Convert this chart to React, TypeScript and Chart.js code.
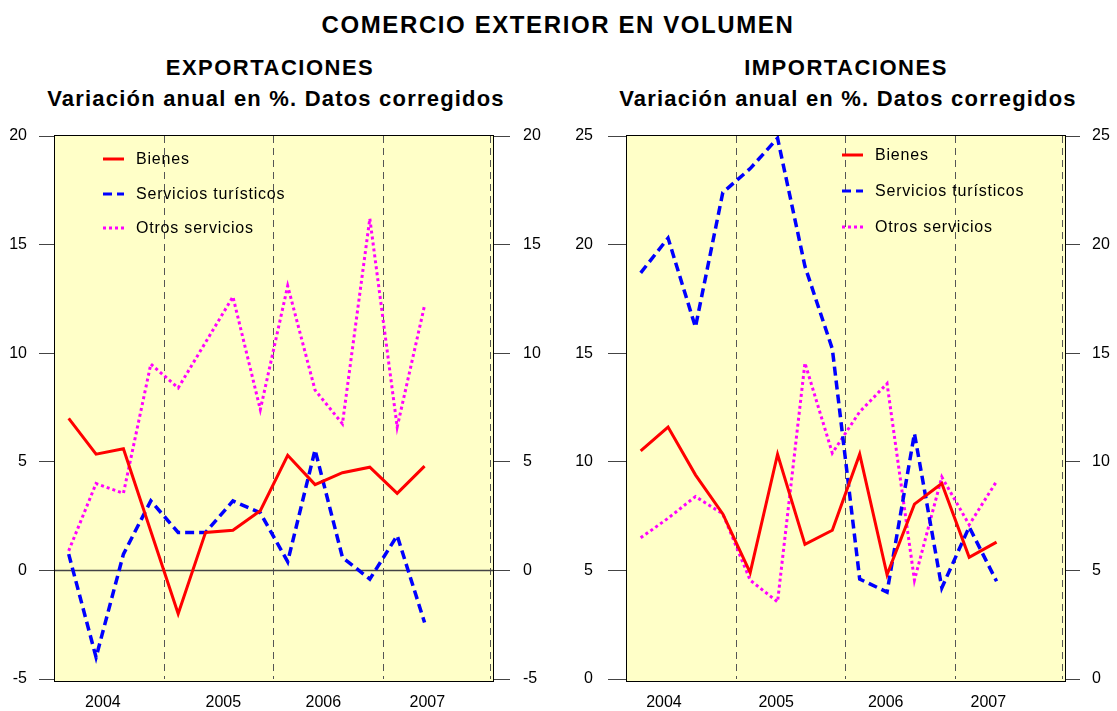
import React, { useEffect, useRef } from 'react';
import { Chart, registerables } from 'chart.js';

Chart.register(...registerables);

// ---- Data ----
const QUARTERS = ['2004-I', '2004-II', '2004-III', '2004-IV', '2005-I', '2005-II', '2005-III', '2005-IV', '2006-I', '2006-II', '2006-III', '2006-IV', '2007-I', '2007-II'];
const YEAR_LABELS = ['2004', '2005', '2006', '2007'];
const SERIES_NAMES = ['Bienes', 'Servicios turísticos', 'Otros servicios'];

const EXP_BIENES = [7.0, 5.35, 5.6, 1.8, -2.0, 1.75, 1.85, 2.75, 5.3, 3.95, 4.5, 4.75, 3.55, 4.8];
const EXP_TURISMO = [0.75, -4.0, 0.75, 3.2, 1.75, 1.75, 3.2, 2.65, 0.4, 5.55, 0.6, -0.4, 1.6, -2.4];
const EXP_OTROS = [0.9, 4.0, 3.55, 9.5, 8.4, 10.5, 12.6, 7.4, 13.1, 8.3, 6.75, 16.2, 6.6, 12.2];

const IMP_BIENES = [10.5, 11.6, 9.4, 7.6, 4.9, 10.35, 6.2, 6.85, 10.35, 4.8, 8.05, 9.0, 5.6, 6.3];
const IMP_TURISMO = [18.7, 20.3, 16.2, 22.4, 23.5, 24.9, 19.0, 15.2, 4.6, 4.0, 11.3, 4.2, 7.0, 4.5];
const IMP_OTROS = [6.5, 7.4, 8.4, 7.6, 4.55, 3.55, 14.55, 10.4, 12.3, 13.6, 4.55, 9.3, 7.1, 9.1];

// ---- Styling / layout ----
const FONT = "'Liberation Sans', Arial, sans-serif";
const COLORS = ['#FF0000', '#0000FF', '#FF00FF'];
const DASHES: number[][] = [[], [9, 5], [3, 3]];
const WIDTHS = [3, 3.5, 3];
const YEAR_DIVIDERS = [3.5, 7.5, 11.5, 15.5];

const framePlugin = {
  id: 'frame',
  beforeDraw(chart: any, _a: any, opts: any) {
    const { ctx, chartArea: a } = chart;
    ctx.save();
    ctx.fillStyle = '#FFFFC8';
    ctx.fillRect(a.left, a.top, a.right - a.left, a.bottom - a.top + 3);
    ctx.restore();
  },
  beforeDatasetsDraw(chart: any, _a: any, opts: any) {
    const { ctx, chartArea: a, scales } = chart;
    ctx.save();
    ctx.strokeStyle = '#555';
    ctx.lineWidth = 1;
    ctx.setLineDash([7, 5]);
    for (const v of YEAR_DIVIDERS) {
      const px = Math.round(scales.x.getPixelForValue(v)) - (v === 15.5 ? 2.5 : 0.5);
      ctx.beginPath();
      ctx.moveTo(px, a.top);
      ctx.lineTo(px, a.bottom);
      ctx.stroke();
    }
    ctx.setLineDash([]);
    if (opts.zeroLine) {
      const py = Math.round(scales.y.getPixelForValue(0)) + 0.5;
      ctx.strokeStyle = '#444';
      ctx.lineWidth = 1.5;
      ctx.beginPath();
      ctx.moveTo(a.left, py);
      ctx.lineTo(a.right, py);
      ctx.stroke();
    }
    ctx.strokeStyle = '#000';
    ctx.lineWidth = 1;
    ctx.strokeRect(Math.round(a.left) - 0.5, Math.round(a.top) - 0.5, Math.round(a.right - a.left) + 1, Math.round(a.bottom - a.top) + 3);
    ctx.restore();
  },
  afterDatasetsDraw(chart: any, _a: any, opts: any) {
    const { ctx, chartArea: a } = chart;
    const lg = opts.legend;
    ctx.save();
    chart.data.datasets.forEach((ds: any, i: number) => {
      const y = a.top + lg.ys[i];
      ctx.strokeStyle = ds.borderColor;
      ctx.lineWidth = 3;
      ctx.setLineDash(ds.borderDash || []);
      ctx.beginPath();
      ctx.moveTo(a.left + lg.sampleX, y);
      ctx.lineTo(a.left + lg.sampleX + 21, y);
      ctx.stroke();
      ctx.setLineDash([]);
      ctx.fillStyle = '#000';
      ctx.font = `16px ${FONT}`;
      (ctx as any).letterSpacing = '0.8px';
      ctx.textBaseline = 'middle';
      ctx.textAlign = 'left';
      ctx.fillText(ds.label, a.left + lg.textX, y + 1);
    });
    ctx.restore();
  },
};

const clearPad = (s: any) => {
  s.paddingTop = 0;
  s.paddingBottom = 0;
  s.paddingLeft = 0;
  s.paddingRight = 0;
};

function makeConfig(series: number[][], yMin: number, yMax: number, axis: any, legend: any, zeroLine: boolean): any {
  const datasets = series.map((vals, i) => ({
    label: SERIES_NAMES[i],
    data: vals.map((v, k) => ({ x: k, y: v, q: QUARTERS[k] })),
    borderColor: COLORS[i],
    backgroundColor: COLORS[i],
    borderWidth: WIDTHS[i],
    borderDash: DASHES[i],
    pointRadius: 0,
    tension: 0,
    fill: false,
  }));
  const tickFont = { family: FONT, size: 16 };
  return {
    type: 'line',
    data: { datasets },
    plugins: [framePlugin],
    options: {
      responsive: false,
      animation: false,
      layout: { padding: { top: 16, left: 0, right: 0, bottom: 0 } },
      plugins: {
        legend: { display: false },
        tooltip: { enabled: false },
        title: { display: false },
        frame: { legend, zeroLine },
      },
      scales: {
        x: {
          type: 'linear',
          min: -0.5,
          max: 15.5,
          grid: { display: false, drawTicks: false },
          border: { display: false },
          afterBuildTicks: (s: any) => {
            s.ticks = axis.yearPos.map((v: number) => ({ value: v }));
          },
          ticks: {
            autoSkip: false,
            maxRotation: 0,
            padding: 14,
            color: '#000',
            font: tickFont,
            callback: (_v: any, i: number) => YEAR_LABELS[i],
          },
          afterFit: (s: any) => { s.height = 32; clearPad(s); },
        },
        y: {
          position: 'left',
          min: yMin,
          max: yMax,
          ticks: { stepSize: 5, padding: axis.leftPad, color: '#000', font: tickFont },
          grid: { drawOnChartArea: false, tickLength: axis.leftTick, tickColor: '#444', color: '#444' },
          border: { display: false },
          afterFit: (s: any) => { s.width = axis.leftW; clearPad(s); },
        },
        y2: {
          position: 'right',
          min: yMin,
          max: yMax,
          ticks: { stepSize: 5, padding: axis.rightPad, color: '#000', font: tickFont },
          grid: { drawOnChartArea: false, tickLength: axis.rightTick, tickColor: '#444', color: '#444' },
          border: { display: false },
          afterFit: (s: any) => { s.width = axis.rightW; clearPad(s); },
        },
      },
    },
  };
}

function ChartCanvas({ config, left, width }: { config: any; left: number; width: number }) {
  const ref = useRef<HTMLCanvasElement>(null);
  useEffect(() => {
    const chart = new Chart(ref.current as HTMLCanvasElement, config);
    return () => chart.destroy();
  }, []);
  return (
    <canvas
      ref={ref}
      width={width}
      height={591}
      style={{ position: 'absolute', left, top: 120, width, height: 591 }}
    />
  );
}

const titleStyle = (cx: number, cy: number, size: number, ls: number): React.CSSProperties => ({
  position: 'absolute',
  left: cx - 400,
  width: 800,
  top: cy - size / 2,
  height: size,
  lineHeight: `${size}px`,
  textAlign: 'center',
  fontFamily: FONT,
  fontWeight: 'bold',
  fontSize: size,
  letterSpacing: `${ls}px`,
  color: '#000',
  whiteSpace: 'nowrap',
});

export default function App() {
  const expConfig = makeConfig(
    [EXP_BIENES, EXP_TURISMO, EXP_OTROS], -5, 20,
    { yearPos: [1.25, 5.65, 9.3, 13.1], leftW: 55, rightW: 67, leftTick: 16, leftPad: 12, rightTick: 17, rightPad: 13 },
    { sampleX: 48, textX: 81, ys: [23, 58, 92] },
    true,
  );
  const impConfig = makeConfig(
    [IMP_BIENES, IMP_TURISMO, IMP_OTROS], 0, 25,
    { yearPos: [0.85, 4.95, 8.95, 12.7], leftW: 67, rightW: 52, leftTick: 19, leftPad: 15, rightTick: 15, rightPad: 12 },
    { sampleX: 215, textX: 248, ys: [19, 55, 91] },
    false,
  );
  return (
    <div style={{ position: 'fixed', left: 0, top: 0, width: 1117, height: 711, background: '#fff', overflow: 'hidden' }}>
      <div style={titleStyle(558, 25, 24, 1.6)}>COMERCIO EXTERIOR EN VOLUMEN</div>
      <div style={titleStyle(270, 68, 22, 1.5)}>EXPORTACIONES</div>
      <div style={titleStyle(276, 99, 22, 1.2)}>Variación anual en %. Datos corregidos</div>
      <div style={titleStyle(846, 68, 22, 1.5)}>IMPORTACIONES</div>
      <div style={titleStyle(848, 99, 22, 1.2)}>Variación anual en %. Datos corregidos</div>
      <ChartCanvas config={expConfig} left={0} width={560} />
      <ChartCanvas config={impConfig} left={560} width={557} />
    </div>
  );
}
